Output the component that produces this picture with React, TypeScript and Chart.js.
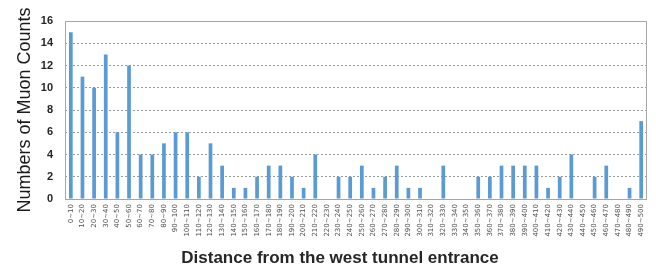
import React, { useEffect, useRef } from "react";
import { Chart, registerables } from "chart.js";

Chart.register(...registerables);

const categories: string[] = [
  "0~10", "10~20", "20~30", "30~40", "40~50", "50~60", "60~70", "70~80", "80~90", "90~100",
  "100~110", "110~120", "120~130", "130~140", "140~150", "150~160", "160~170", "170~180", "180~190", "190~200",
  "200~210", "210~220", "220~230", "230~240", "240~250", "250~260", "260~270", "270~280", "280~290", "290~300",
  "300~310", "310~320", "320~330", "330~340", "340~350", "350~360", "360~370", "370~380", "380~390", "390~400",
  "400~410", "410~420", "420~430", "430~440", "440~450", "450~460", "460~470", "470~480", "480~490", "490~500",
];

const muonCounts: number[] = [
  15, 11, 10, 13, 6, 12, 4, 4, 5, 6,
  6, 2, 5, 3, 1, 1, 2, 3, 3, 2,
  1, 4, 0, 2, 2, 3, 1, 2, 3, 1,
  1, 0, 3, 0, 0, 2, 2, 3, 3, 3,
  3, 1, 2, 4, 0, 2, 3, 0, 1, 7,
];

const yTitle = "Numbers of Muon Counts";
const xTitle = "Distance from the west tunnel entrance";

export default function App() {
  const ref = useRef<HTMLCanvasElement | null>(null);

  useEffect(() => {
    if (!ref.current) return;
    const chart = new Chart(ref.current, {
      type: "bar",
      data: {
        labels: categories,
        datasets: [
          {
            data: muonCounts,
            backgroundColor: "#5B9BD5",
            borderWidth: 0,
            barPercentage: 0.32,
            categoryPercentage: 1,
          },
        ],
      },
      options: {
        animation: false,
        responsive: false,
        maintainAspectRatio: false,
        layout: { padding: { left: 0, right: 9, top: 21, bottom: 0 } },
        plugins: {
          legend: { display: false },
          tooltip: { enabled: false },
          title: { display: false },
        },
        scales: {
          x: {
            grid: { display: false, drawTicks: false },
            border: { display: false },
            ticks: {
              autoSkip: false,
              maxRotation: 90,
              minRotation: 90,
              padding: 5,
              color: "#505050",
              font: { family: "DejaVu Sans", size: 7 },
            },
            title: { display: false, text: xTitle },
            afterFit: (scale: any) => {
              scale.height = 68;
            },
          },
          y: {
            min: 0,
            max: 16,
            ticks: {
              stepSize: 2,
              padding: 12,
              color: "#262626",
              font: { family: "Liberation Sans", size: 11, weight: "bold" },
            },
            grid: {
              color: "#9a9a9a",
              lineWidth: 1,
              drawTicks: false,
            },
            border: { display: false, dash: [2, 2] },
            title: {
              display: true,
              text: yTitle,
              color: "#1a1a1a",
              font: { family: "Liberation Sans", size: 18 },
              padding: { top: 14, bottom: 0 },
            },
            afterFit: (scale: any) => {
              scale.width = 65;
            },
          },
        },
      },
      plugins: [
        {
          id: "frame",
          beforeDatasetsDraw(c: any) {
            const { ctx, chartArea } = c;
            ctx.save();
            ctx.strokeStyle = "#a6a6a6";
            ctx.lineWidth = 1;
            ctx.setLineDash([]);
            ctx.strokeRect(
              Math.round(chartArea.left) + 0.5,
              Math.round(chartArea.top) + 0.5,
              Math.round(chartArea.right - chartArea.left) - 1,
              Math.round(chartArea.bottom - chartArea.top)
            );
            ctx.restore();
          },
        },
        {
          id: "xTitle",
          afterDraw(c: any) {
            const { ctx } = c;
            ctx.save();
            ctx.fillStyle = "#262626";
            ctx.font = "bold 17px 'Liberation Sans'";
            ctx.textAlign = "center";
            ctx.textBaseline = "middle";
            ctx.fillText(xTitle, 340, 258);
            ctx.restore();
          },
        },
      ],
    });
    return () => chart.destroy();
  }, []);

  return (
    <div style={{ position: "fixed", left: 0, top: 0, width: 656, height: 267, background: "#fff" }}>
      <canvas ref={ref} width={656} height={267} style={{ display: "block" }} />
    </div>
  );
}
